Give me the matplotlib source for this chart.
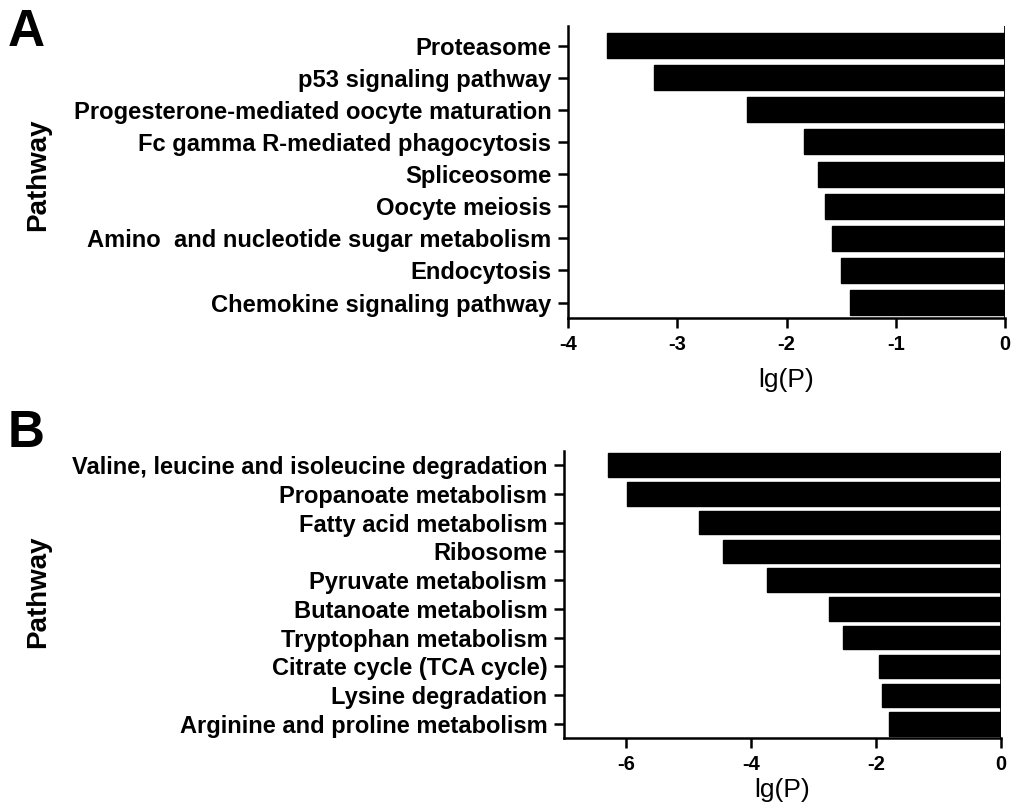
import matplotlib.pyplot as plt
import numpy as np

plt.rcParams['font.family'] = ['Liberation Sans', 'DejaVu Sans']

# panel A
pathways_a = ['Proteasome', 'p53 signaling pathway', 'Progesterone-mediated oocyte maturation',
              'Fc gamma R-mediated phagocytosis', 'Spliceosome', 'Oocyte meiosis',
              'Amino  and nucleotide sugar metabolism', 'Endocytosis', 'Chemokine signaling pathway']
lgp_a = [-3.64, -3.21, -2.36, -1.84, -1.71, -1.65, -1.58, -1.50, -1.42]

# panel B
pathways_b = ['Valine, leucine and isoleucine degradation', 'Propanoate metabolism',
              'Fatty acid metabolism', 'Ribosome', 'Pyruvate metabolism', 'Butanoate metabolism',
              'Tryptophan metabolism', 'Citrate cycle (TCA cycle)', 'Lysine degradation',
              'Arginine and proline metabolism']
lgp_b = [-6.30, -5.99, -4.83, -4.46, -3.75, -2.75, -2.53, -1.96, -1.90, -1.79]

fig = plt.figure(figsize=(10.11, 8.05), dpi=100)
axA = fig.add_axes([0.5618, 0.6050, 0.4323, 0.3627])
axB = fig.add_axes([0.5579, 0.0832, 0.4322, 0.3569])


def panel(ax, names, vals, xlim, xticks, height, ylim, fs):
    y = np.arange(len(names))
    ax.barh(y, vals, height=height, color='black', edgecolor='black')
    ax.axvline(0, color='black', lw=2)
    ax.set_yticks(y)
    ax.set_yticklabels(names, fontsize=fs, fontweight='bold')
    ax.set_ylim(ylim)
    ax.set_xlim(xlim)
    ax.set_xticks(xticks)
    ax.set_xticklabels([str(t) for t in xticks], fontsize=14.5, fontweight='bold')
    ax.set_xlabel('lg(P)', fontsize=19, labelpad=10)
    for s in ['top', 'right']:
        ax.spines[s].set_visible(False)
    for s in ['left', 'bottom']:
        ax.spines[s].set_linewidth(1.8)
    ax.tick_params(width=1.8, length=7, pad=5)


panel(axA, pathways_a, lgp_a, (-4, 0), [-4, -3, -2, -1, 0], 0.78,
      (len(pathways_a) - 0.52, -0.61), 17.1)
panel(axB, pathways_b, lgp_b, (-7, 0), [-6, -4, -2, 0], 0.81,
      (len(pathways_b) - 0.51, -0.5), 17)
axB.xaxis.labelpad = 3

fig.text(0.038, 1 - 175 / 805, 'Pathway', rotation=90, fontsize=20, fontweight='bold',
         ha='center', va='center')
fig.text(0.038, 1 - 592 / 805, 'Pathway', rotation=90, fontsize=20, fontweight='bold',
         ha='center', va='center')
fig.text(0.008, 0.990, 'A', fontsize=37, fontweight='bold', va='top')
fig.text(0.008, 0.492, 'B', fontsize=37, fontweight='bold', va='top')

fig.savefig('out.png', dpi=100)
